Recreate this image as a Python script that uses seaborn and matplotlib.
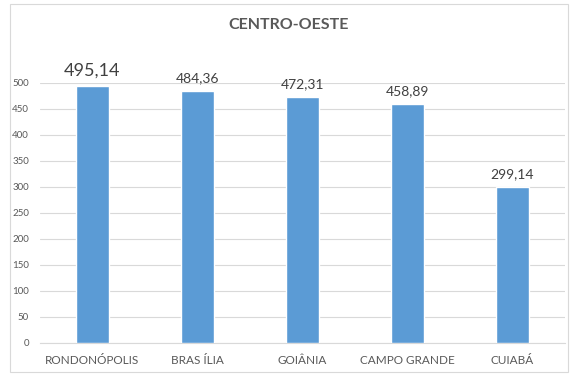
import matplotlib
matplotlib.use("Agg")
import matplotlib.pyplot as plt
import seaborn as sns
import pandas as pd
from matplotlib.patches import Rectangle

# Data
cities = ['RONDONÓPOLIS', 'BRAS ÍLIA', 'GOIÂNIA', 'CAMPO GRANDE', 'CUIABÁ']
values = [495.14, 484.36, 472.31, 458.89, 299.14]
label_sizes = [13, 10, 10, 10, 10]
yticks = [0, 50, 100, 150, 200, 250, 300, 350, 400, 450, 500]

df = pd.DataFrame({'city': cities, 'value': values})

sns.set_style('white')
plt.rcParams['font.family'] = ['Lato', 'DejaVu Sans']

text_color = '#595959'
bar_color = '#5B9BD5'

fig = plt.figure(figsize=(5.78, 3.76), dpi=100)
ax = fig.add_axes([40 / 578, 1 - 343 / 376, 525 / 578, 260 / 376])

sns.barplot(data=df, x='city', y='value', color=bar_color, width=0.31,
            saturation=1, ax=ax, zorder=3)

ax.set_ylim(0, 500)
ax.set_yticks(yticks)
ax.set_xlim(-0.5, len(cities) - 0.5)
ax.yaxis.grid(True, color='#D9D9D9', linewidth=0.8, zorder=0)
ax.set_axisbelow(True)
for side in ['top', 'right', 'left']:
    ax.spines[side].set_visible(False)
ax.spines['bottom'].set_color('#D9D9D9')
ax.spines['bottom'].set_linewidth(0.8)
ax.tick_params(axis='both', length=0, colors=text_color)
ax.tick_params(axis='y', labelsize=7, pad=8)
ax.tick_params(axis='x', labelsize=8.5, pad=9)
ax.set_xlabel('')
ax.set_ylabel('')

# Data labels with comma decimal separator
for i, (v, fs) in enumerate(zip(values, label_sizes)):
    ax.annotate(f'{v:.2f}'.replace('.', ','), (i, v), xytext=(0, 5),
                textcoords='offset points', ha='center', va='bottom',
                fontsize=fs, color='#404040', annotation_clip=False)

fig.text(0.5, 1 - 25 / 376, 'CENTRO-OESTE', ha='center', va='center',
         fontsize=11.5, fontweight='bold', color=text_color)

# Chart border
fig.patches.append(Rectangle((10 / 578, 4 / 376), 558 / 578, 368 / 376,
                             transform=fig.transFigure, fill=False,
                             edgecolor='#D9D9D9', linewidth=0.8))

fig.savefig('out.png', dpi=100)
